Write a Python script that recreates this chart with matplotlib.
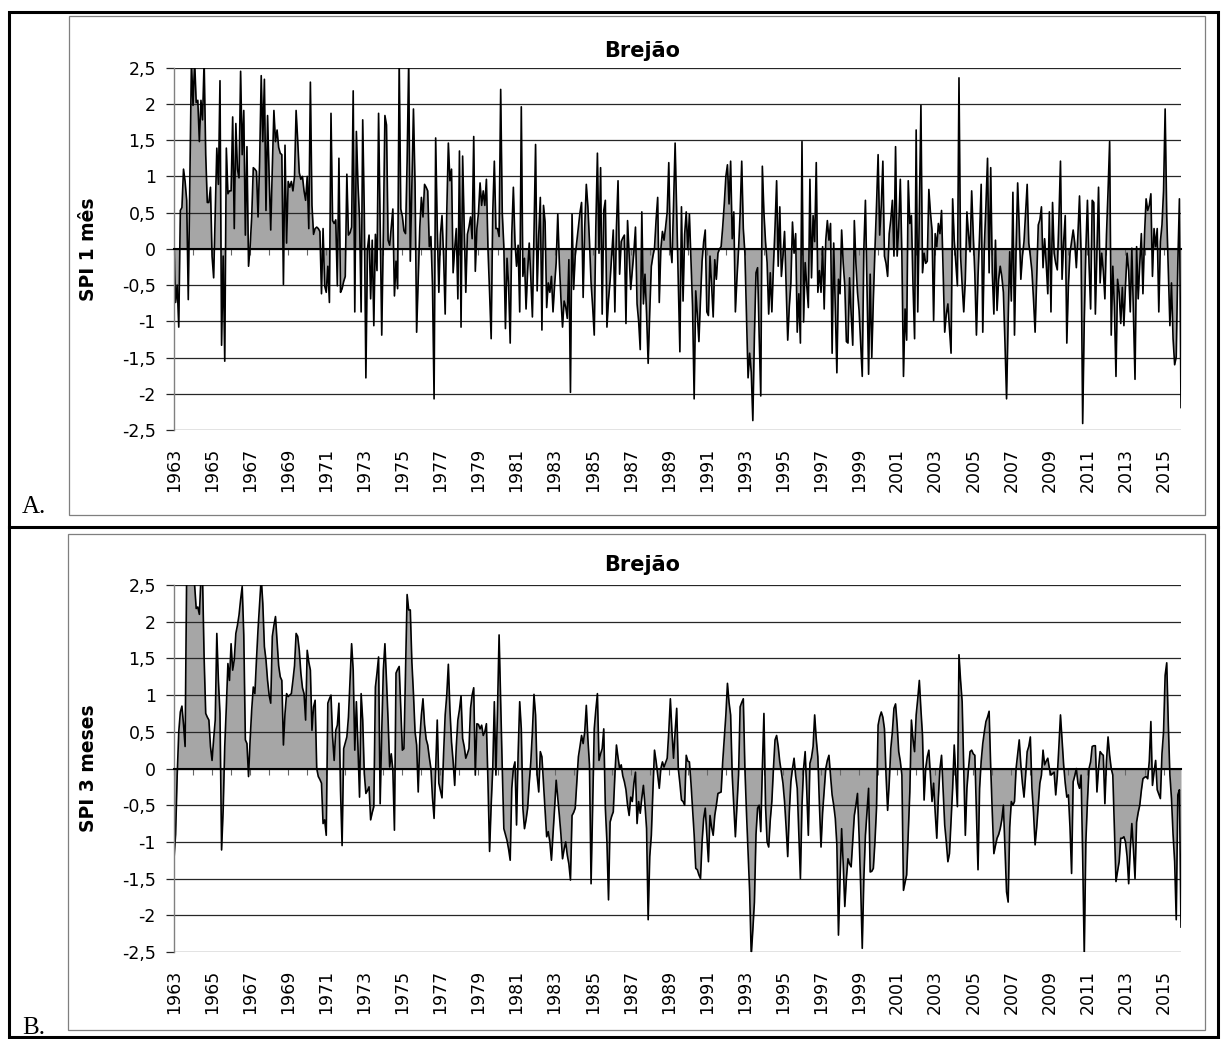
import numpy as np
import matplotlib.pyplot as plt
from matplotlib.lines import Line2D
from matplotlib.patches import Rectangle

# monthly SPI values, Jan 1963 .. Dec 2015, one row per year
spi1 = [
    0.1, -0.74, -0.5, -1.08, 0.53, 0.57, 1.1, 0.93, 0.67, -0.7, 1.0, 2.6,          # 1963
    1.98, 2.6, 2.02, 2.05, 1.48, 2.05, 1.78, 2.6, 1.3, 0.64, 0.64, 0.85,           # 1964
    -0.1, -0.4, 0.5, 1.39, 0.89, 2.32, -1.33, -0.1, -1.55, 1.39, 0.76, 0.8,        # 1965
    0.8, 1.82, 0.28, 1.73, 1.1, 0.98, 2.45, 1.3, 1.91, 0.19, 1.41, -0.24,          # 1966
    0.03, 0.44, 1.12, 1.1, 1.07, 0.44, 1.2, 2.39, 1.48, 2.34, 0.53, 1.84,          # 1967
    1.0, 0.26, 1.12, 1.91, 1.48, 1.64, 1.4, 1.32, 1.3, -0.49, 1.43, 0.08,          # 1968
    0.93, 0.85, 0.93, 0.8, 1.0, 1.91, 1.5, 1.05, 0.96, 1.0, 0.8, 0.67,             # 1969
    1.0, 0.28, 2.3, 0.6, 0.2, 0.28, 0.3, 0.28, 0.24, -0.62, 0.28, -0.51,           # 1970
    -0.6, -0.24, -0.74, 1.87, 0.39, 0.35, 0.4, -0.51, 1.25, -0.6, -0.55, -0.45,    # 1971
    -0.38, 1.03, 0.19, 0.22, 0.3, 2.18, -0.87, 1.62, 0.9, 0.42, -0.87, 1.78,       # 1972
    0.5, -1.78, 0.0, 0.19, -0.69, 0.12, -1.06, 0.2, -0.3, 1.87, 0.3, -1.19,        # 1973
    0.2, 1.84, 1.71, 0.12, 0.05, 0.3, 0.55, -0.65, -0.17, -0.55, 2.6, 0.55,        # 1974
    0.45, 0.25, 0.21, 1.2, 2.6, -0.17, 0.9, 1.93, 0.89, -1.15, -0.42, 0.3,         # 1975
    0.71, 0.44, 0.89, 0.85, 0.8, 0.03, 0.17, -0.5, -2.07, 1.53, 0.3, -0.6,         # 1976
    0.2, 0.46, -0.1, -0.9, 0.5, 1.46, 0.94, 1.1, -0.33, 0.0, 0.28, -0.69,          # 1977
    1.35, -1.08, 1.28, 0.3, -0.6, 0.2, 0.3, 0.44, 0.14, 1.55, -0.31, 0.28,         # 1978
    0.5, 0.91, 0.6, 0.8, 0.6, 0.96, -0.01, -0.6, -1.24, 0.5, 1.21, 0.28,           # 1979
    0.28, 0.17, 2.2, 0.5, 0.03, -1.1, -0.13, -0.5, -1.3, 0.2, 0.85, 0.1,           # 1980
    -0.24, 0.05, -0.87, 1.96, -0.38, -0.13, -0.83, -0.3, 0.08, -0.4, -0.94, 0.2,   # 1981
    1.44, -0.58, 0.2, 0.71, -1.12, 0.6, 0.37, -0.81, -0.47, -0.6, -0.38, -0.87,    # 1982
    -0.5, -0.19, 0.48, -0.2, -0.69, -1.08, -0.72, -0.8, -0.96, -0.15, -1.98, 0.48, # 1983
    -0.56, -0.1, 0.1, 0.3, 0.5, 0.64, -0.67, 0.3, 0.89, 0.58, 0.1, -0.47,          # 1984
    -0.8, -1.19, 0.3, 1.32, -0.06, 1.12, -0.9, 0.53, 0.67, -1.08, -0.7, -0.44,     # 1985
    -0.1, 0.26, -0.87, 0.3, 0.94, -0.35, 0.1, 0.15, 0.19, -1.03, 0.39, -0.1,       # 1986
    -0.56, -0.3, -0.04, 0.3, -0.76, -1.0, -1.39, 0.51, -0.76, -0.35, -0.9, -1.58,  # 1987
    -0.87, -0.24, -0.1, 0.01, 0.4, 0.71, -0.74, 0.0, 0.24, 0.12, 0.3, 0.51,        # 1988
    1.19, 0.03, -0.19, 0.6, 1.46, 0.51, -0.5, -1.42, 0.58, -0.72, 0.2, 0.51,       # 1989
    -0.01, 0.48, -0.15, -0.8, -2.07, -0.58, -0.9, -1.28, -0.7, -0.17, 0.1, 0.26,   # 1990
    -0.87, -0.92, -0.1, -0.5, -0.94, -0.15, -0.42, -0.06, 0.0, 0.03, 0.3, 0.62,    # 1991
    1.0, 1.16, 0.62, 1.21, 0.14, 0.51, -0.87, -0.4, -0.01, 0.5, 1.21, 0.28,        # 1992
    -0.06, -0.9, -1.78, -1.44, -1.7, -2.37, -1.2, -0.33, -0.26, -1.2, -2.03, 1.14, # 1993
    0.5, 0.1, -0.19, -0.9, -0.33, -0.87, -0.24, 0.3, 0.94, -0.24, 0.58, -0.38,     # 1994
    -0.1, 0.24, -0.5, -1.26, -0.8, -0.47, 0.37, -0.06, 0.21, -1.15, -0.62, -1.3,   # 1995
    1.48, -1.01, -0.19, -0.5, -0.81, 0.96, -0.4, 0.46, 0.1, 1.19, -0.6, -0.3,      # 1996
    -0.6, 0.03, -0.83, 0.12, 0.39, 0.12, 0.35, -1.44, 0.08, -0.8, -1.71, -0.42,    # 1997
    -0.62, 0.26, -0.2, -0.51, -1.28, -1.3, -0.4, -0.9, -1.33, 0.39, -0.2, -0.6,    # 1998
    -0.85, -1.3, -1.76, -0.01, 0.67, -0.5, -1.73, -0.35, -1.5, -0.7, -0.01, 0.6,   # 1999
    1.3, 0.19, 0.6, 1.21, -0.1, -0.2, -0.38, 0.21, 0.4, 0.67, -0.1, 1.41,          # 2000
    -0.1, 0.3, 0.96, -0.1, -1.76, -0.83, -1.26, 0.94, 0.35, 0.46, -0.5, -1.24,     # 2001
    1.64, -0.87, 0.5, 1.98, -0.33, -0.06, -0.2, -0.17, 0.82, 0.5, 0.26, -0.99,     # 2002
    0.21, 0.03, 0.35, 0.21, 0.53, -0.3, -1.15, -0.9, -0.76, -1.1, -1.44, 0.69,     # 2003
    0.12, -0.2, -0.51, 2.36, -0.1, -0.5, -0.87, -0.42, 0.51, 0.2, -0.04, 0.8,      # 2004
    0.2, -0.35, -1.19, -0.38, 0.2, 0.89, -1.15, 0.05, 0.6, 1.25, -0.33, 1.12,      # 2005
    -0.33, -0.9, 0.12, -0.85, -0.42, -0.24, -0.38, -0.6, -1.3, -2.07, -1.0, -0.04, # 2006
    -0.72, 0.78, -1.19, 0.0, 0.91, 0.3, -0.42, -0.1, 0.1, 0.5, 0.89, 0.08,         # 2007
    -0.1, -0.31, -0.7, -1.15, -0.4, 0.33, 0.4, 0.58, -0.26, 0.14, -0.2, -0.62,     # 2008
    0.51, -0.87, 0.64, -0.06, -0.2, -0.29, 0.4, 1.21, -0.42, 0.1, 0.46, -1.3,      # 2009
    -0.5, -0.06, 0.1, 0.26, 0.08, -0.26, 0.2, 0.73, -0.06, -2.41, -1.0, -0.01,     # 2010
    0.67, -0.2, -0.83, 0.67, 0.64, -0.9, 0.0, 0.85, -0.47, -0.06, -0.3, -0.69,     # 2011
    0.19, 0.8, 1.48, -1.19, -0.24, -0.8, -1.76, -0.42, -0.6, -1.03, -0.53, -1.06,  # 2012
    -0.5, -0.06, -0.3, -0.87, 0.01, -0.9, -1.8, 0.03, -0.69, -0.2, 0.21, -0.62,    # 2013
    0.2, 0.69, 0.53, 0.6, 0.76, -0.38, 0.28, 0.03, 0.28, -0.87, 0.1, 0.33,         # 2014
    0.8, 1.93, 0.46, -0.3, -1.06, -0.47, -1.24, -1.6, -1.49, -0.2, 0.69, -2.19,    # 2015
]

spi3 = [
    -1.23, -0.9, -0.1, 0.5, 0.77, 0.85, 0.6, 0.3, 2.7, 2.9, 2.8, 2.7,              # 1963
    2.7, 2.5, 2.18, 2.2, 2.1, 2.6, 2.6, 1.5, 0.75, 0.7, 0.66, 0.3,                 # 1964
    0.11, 0.4, 0.66, 1.84, 1.2, 0.75, -1.11, -0.57, 0.3, 0.84, 1.43, 1.2,          # 1965
    1.7, 1.34, 1.48, 1.84, 1.95, 2.09, 2.3, 2.48, 1.82, 0.39, 0.34, -0.11,         # 1966
    0.39, 0.8, 1.11, 1.02, 1.48, 1.9, 2.25, 2.6, 2.25, 1.66, 1.48, 1.2,            # 1967
    1.0, 0.89, 1.8, 1.95, 2.07, 1.73, 1.4, 1.25, 1.2, 0.32, 0.75, 1.02,            # 1968
    0.98, 1.0, 1.02, 1.2, 1.4, 1.84, 1.8, 1.61, 1.3, 1.1, 1.02, 0.66,              # 1969
    1.61, 1.45, 1.34, 0.52, 0.84, 0.93, 0.0, -0.11, -0.15, -0.2, -0.75, -0.7,      # 1970
    -0.91, 0.89, 0.95, 1.0, 0.43, 0.11, 0.52, 0.59, 0.89, -0.3, -1.05, 0.27,       # 1971
    0.35, 0.43, 0.7, 1.2, 1.7, 1.34, 0.25, 0.91, 0.3, -0.39, 1.02, 0.66,           # 1972
    -0.07, -0.34, -0.3, -0.25, -0.7, -0.6, -0.52, 1.11, 1.3, 1.52, -0.48, 0.5,     # 1973
    1.34, 1.7, 1.2, 0.66, 0.02, 0.2, -0.02, -0.84, 1.3, 1.35, 1.39, 0.8,           # 1974
    0.25, 0.27, 1.3, 2.37, 2.16, 2.16, 1.45, 1.02, 0.5, 0.32, -0.32, 0.4,          # 1975
    0.73, 0.95, 0.6, 0.4, 0.32, 0.15, 0.0, -0.4, -0.68, 0.0, 0.66, -0.2,           # 1976
    -0.3, -0.4, 0.2, 0.73, 1.0, 1.42, 0.8, 0.36, 0.1, -0.23, 0.3, 0.66,            # 1977
    0.8, 0.99, 0.41, 0.3, 0.14, 0.2, 0.27, 0.82, 1.0, 1.1, -0.09, 0.61,            # 1978
    0.6, 0.54, 0.59, 0.45, 0.5, 0.61, -0.2, -1.13, -0.5, 0.0, 0.91, -0.09,         # 1979
    0.8, 1.82, 0.9, 0.0, -0.82, -0.9, -0.98, -1.1, -1.25, -0.27, 0.0, 0.09,        # 1980
    -0.77, 0.2, 0.91, 0.54, -0.54, -0.82, -0.7, -0.54, -0.2, 0.09, 0.5, 1.01,      # 1981
    0.73, -0.1, -0.32, 0.23, 0.16, -0.2, -0.54, -0.93, -0.86, -1.0, -1.25, -0.9,   # 1982
    -0.54, -0.16, -0.4, -0.64, -0.9, -1.23, -1.1, -1.0, -1.18, -1.3, -1.52, -0.64, # 1983
    -0.6, -0.54, -0.2, 0.16, 0.3, 0.45, 0.34, 0.5, 0.86, 0.4, 0.05, -1.57,         # 1984
    -0.5, 0.54, 0.8, 1.02, 0.11, 0.2, 0.27, 0.54, -0.54, -1.0, -1.79, -0.73,       # 1985
    -0.65, -0.59, -0.1, 0.32, 0.15, 0.0, 0.05, -0.1, -0.18, -0.29, -0.5, -0.64,    # 1986
    -0.39, -0.45, -0.2, -0.05, -0.75, -0.45, -0.61, -0.4, -0.23, -0.5, -0.82, -2.06, # 1987
    -1.2, -0.91, -0.3, 0.25, 0.1, -0.09, -0.27, 0.0, 0.09, 0.02, 0.08, 0.14,       # 1988
    0.5, 0.95, 0.5, 0.14, 0.5, 0.82, 0.0, -0.2, -0.43, -0.45, -0.5, 0.18,          # 1989
    0.1, 0.09, -0.2, -0.54, -0.9, -1.36, -1.38, -1.45, -1.5, -1.0, -0.68, -0.54,   # 1990
    -0.9, -1.27, -0.64, -0.8, -0.91, -0.64, -0.5, -0.34, -0.33, -0.32, 0.09, 0.4,  # 1991
    0.73, 1.16, 0.9, 0.73, -0.09, -0.5, -0.93, -0.5, -0.09, 0.84, 0.9, 0.95,       # 1992
    0.0, -0.6, -1.13, -1.68, -2.55, -2.2, -1.82, -0.9, -0.54, -0.5, -0.86, 0.0,    # 1993
    0.75, -0.5, -1.0, -1.07, -0.7, -0.45, 0.0, 0.39, 0.45, 0.3, 0.09, -0.05,       # 1994
    -0.2, -0.45, -0.8, -1.2, -0.6, -0.18, 0.0, 0.14, -0.1, -0.27, -0.9, -1.5,      # 1995
    -0.5, 0.0, 0.23, -0.3, -0.91, 0.07, 0.15, 0.3, 0.73, 0.4, 0.16, -0.5,          # 1996
    -1.07, -0.6, -0.29, 0.0, 0.11, 0.18, -0.1, -0.36, -0.5, -0.68, -1.04, -2.27,   # 1997
    -1.5, -0.82, -1.3, -1.88, -1.5, -1.23, -1.3, -1.34, -1.0, -0.64, -0.5, -0.34,  # 1998
    -0.91, -1.6, -2.45, -1.5, -0.91, -0.6, -0.27, -1.41, -1.4, -1.36, -1.0, -0.54, # 1999
    0.59, 0.7, 0.77, 0.7, 0.54, -0.09, -0.57, -0.2, 0.27, 0.5, 0.82, 0.88,         # 2000
    0.6, 0.23, 0.1, -0.09, -1.66, -1.55, -1.45, -0.9, -0.32, 0.66, 0.4, 0.23,      # 2001
    0.73, 0.95, 1.2, 0.8, 0.45, -0.43, 0.0, 0.16, 0.25, -0.1, -0.45, -0.2,         # 2002
    -0.6, -0.95, -0.4, 0.0, 0.18, -0.3, -0.77, -1.0, -1.27, -1.16, -0.7, -0.27,    # 2003
    0.32, -0.1, -0.52, 1.55, 1.2, 0.91, 0.0, -0.91, -0.27, 0.0, 0.23, 0.25,        # 2004
    0.2, 0.18, -0.6, -1.38, -0.27, 0.1, 0.34, 0.5, 0.64, 0.7, 0.78, 0.02,          # 2005
    -0.6, -1.16, -1.05, -0.95, -0.9, -0.82, -0.7, -0.5, -1.1, -1.68, -1.82, -0.8,  # 2006
    -0.45, -0.5, -0.45, 0.0, 0.2, 0.39, 0.05, -0.2, -0.39, -0.1, 0.23, 0.3,        # 2007
    0.43, -0.27, -0.6, -1.04, -0.8, -0.5, -0.2, -0.09, 0.25, 0.05, 0.1, 0.14,      # 2008
    0.0, -0.09, -0.07, -0.05, -0.36, -0.1, 0.3, 0.73, 0.4, 0.05, -0.2, -0.39,      # 2009
    -0.36, -0.8, -1.43, -0.18, -0.1, 0.0, -0.2, -0.27, -0.09, -1.2, -2.55, -1.0,   # 2010
    -0.45, 0.0, 0.09, 0.3, 0.31, 0.31, -0.32, 0.0, 0.23, 0.2, 0.18, -0.48,         # 2011
    0.1, 0.43, 0.18, 0.0, -0.09, -0.8, -1.54, -1.4, -1.27, -0.95, -0.95, -0.93,    # 2012
    -1.0, -1.2, -1.57, -1.1, -0.75, -1.1, -1.5, -0.73, -0.6, -0.5, -0.3, -0.14,    # 2013
    -0.12, -0.11, -0.14, 0.1, 0.64, -0.23, -0.05, 0.11, -0.29, -0.35, -0.41, 0.2,  # 2014
    0.5, 1.27, 1.44, 0.6, -0.09, -0.41, -0.9, -1.27, -2.06, -0.36, -0.29, -2.16,   # 2015
]

years = list(range(1963, 2016))
label_years = years[::2]
yticks = [-2.5, -2, -1.5, -1, -0.5, 0, 0.5, 1, 1.5, 2, 2.5]
ytick_labels = ['-2,5', '-2', '-1,5', '-1', '-0,5', '0', '0,5', '1', '1,5', '2', '2,5']

W, H = 1223, 1039
fig = plt.figure(figsize=(W / 100, H / 100), dpi=100)


def fx(x):
    return x / W


def fy(y):
    return 1 - y / H


def panel(values, plot_top, plot_bot, box, ylabel, title_y, letter, letter_y):
    ax = fig.add_axes([fx(174), fy(plot_bot), fx(1181) - fx(174), fy(plot_top) - fy(plot_bot)])
    months = np.arange(len(values))
    v = np.array(values)
    ax.fill_between(months, v, 0, color='#a6a6a6', lw=0, zorder=1)
    ax.plot(months, v, color='black', lw=1.2, zorder=2)
    ax.set_xlim(0, len(values) - 1)
    ax.set_ylim(-2.5, 2.5)

    ax.set_axisbelow('line')
    ax.set_yticks(yticks)
    ax.set_yticklabels(ytick_labels)
    ax.grid(axis='y', color='#262626', lw=0.9)
    ax.tick_params(axis='y', length=6, width=0.9, color='#262626', pad=7, labelsize=12.5)

    ax.set_xticks(np.arange(0, len(values), 12))
    ax.tick_params(axis='x', length=4, width=0.8, color='#666666', labelbottom=False)
    for spine in ['top', 'right']:
        ax.spines[spine].set_visible(False)
    ax.spines['bottom'].set_position(('data', 0))
    ax.spines['bottom'].set_linewidth(1.5)
    ax.spines['left'].set_color('#808080')
    ax.spines['left'].set_linewidth(1.0)

    off = -18 / (plot_bot - plot_top)
    for k, yr in enumerate(label_years):
        ax.text(24 * k, off, str(yr), transform=ax.get_xaxis_transform(), rotation=90,
                ha='center', va='top', fontsize=12.5)

    fig.text(fx(88), fy((plot_top + plot_bot) / 2), ylabel, rotation=90, ha='center',
             va='center', fontsize=13.5, fontweight='bold')
    fig.text(fx(642), fy(title_y), 'Brejão', ha='center', va='baseline',
             fontsize=15, fontweight='bold')
    x0, y0, x1, y1 = box
    fig.add_artist(Rectangle((fx(x0), fy(y1)), fx(x1) - fx(x0), fy(y0) - fy(y1),
                             transform=fig.transFigure, fill=False, ec='#7f7f7f', lw=0.9))
    fig.text(fx(22), fy(letter_y), letter, family='Liberation Serif', fontsize=18,
             va='baseline', ha='left')
    return ax


panel(spi1, 67.7, 430, (69, 16, 1205, 515), 'SPI 1 mês', 57, 'A.', 513)
panel(spi3, 585, 952, (68, 534, 1205, 1030), 'SPI 3 meses', 571, 'B.', 1034)

# outer table frame
fig.add_artist(Rectangle((fx(9), fy(1037)), fx(1218) - fx(9), fy(12) - fy(1037),
                         transform=fig.transFigure, fill=False, ec='black', lw=2.2))
fig.add_artist(Line2D([fx(9), fx(1218)], [fy(527), fy(527)], transform=fig.transFigure,
                      color='black', lw=2.2))

fig.savefig('out.png', dpi=100)
